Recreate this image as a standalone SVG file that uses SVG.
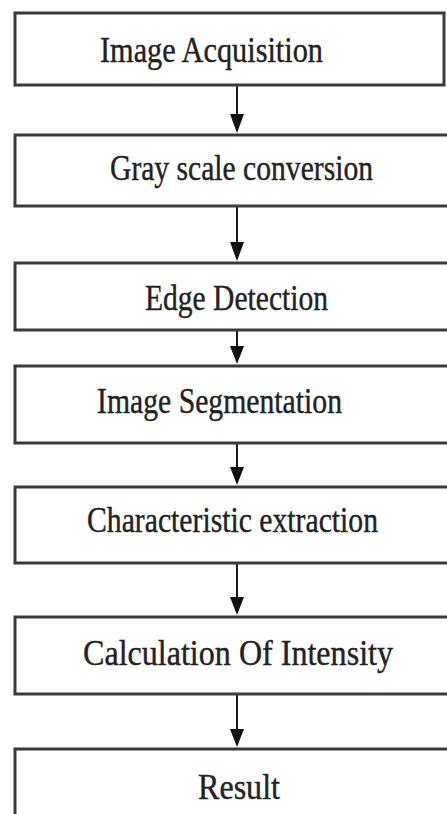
<svg xmlns="http://www.w3.org/2000/svg" width="447" height="814" viewBox="0 0 447 814">
<style>
.box{fill:#fff;stroke:#3a3a3a;stroke-width:3}
.lbl{font-family:"Liberation Serif","Times New Roman","DejaVu Serif",serif;font-size:36px;fill:#222;stroke:#222;stroke-width:0.4}
.conn{stroke:#1a1a1a;stroke-width:2;fill:none}
.head{fill:#111}
</style>
<rect width="447" height="814" fill="#fff"/>
<g id="connectors">
<line class="conn" x1="237" y1="86" x2="237" y2="118"/>
<polygon class="head" points="230,114 244,114 237,133"/>
<line class="conn" x1="237" y1="207" x2="237" y2="246"/>
<polygon class="head" points="230,242 244,242 237,261"/>
<line class="conn" x1="237" y1="331" x2="237" y2="349"/>
<polygon class="head" points="230,346 244,346 237,364"/>
<line class="conn" x1="237" y1="444" x2="237" y2="470"/>
<polygon class="head" points="230,467 244,467 237,485"/>
<line class="conn" x1="237" y1="564" x2="237" y2="600"/>
<polygon class="head" points="230,597 244,597 237,615"/>
<line class="conn" x1="237" y1="695" x2="237" y2="732"/>
<polygon class="head" points="230,729 244,729 237,747"/>
</g>
<g id="n1"><rect class="box" x="15" y="13" width="429" height="72"/>
<text class="lbl" x="100" y="62" textLength="223" lengthAdjust="spacingAndGlyphs">Image  Acquisition</text></g>
<g id="n2"><rect class="box" x="15" y="135" width="450" height="71"/>
<text class="lbl" x="110" y="180" textLength="263" lengthAdjust="spacingAndGlyphs">Gray scale conversion</text></g>
<g id="n3"><rect class="box" x="15" y="263" width="450" height="67"/>
<text class="lbl" x="145" y="310" textLength="183" lengthAdjust="spacingAndGlyphs">Edge Detection</text></g>
<g id="n4"><rect class="box" x="15" y="366" width="450" height="77"/>
<text class="lbl" x="97" y="413" textLength="245" lengthAdjust="spacingAndGlyphs">Image Segmentation</text></g>
<g id="n5"><rect class="box" x="15" y="487" width="450" height="76"/>
<text class="lbl" x="87" y="532" textLength="291" lengthAdjust="spacingAndGlyphs">Characteristic extraction</text></g>
<g id="n6"><rect class="box" x="15" y="617" width="450" height="77"/>
<text class="lbl" x="83" y="665" textLength="310" lengthAdjust="spacingAndGlyphs">Calculation Of Intensity</text></g>
<g id="n7"><rect class="box" x="15" y="749" width="450" height="80"/>
<text class="lbl" x="198" y="799" textLength="82" lengthAdjust="spacingAndGlyphs">Result</text></g>
</svg>
